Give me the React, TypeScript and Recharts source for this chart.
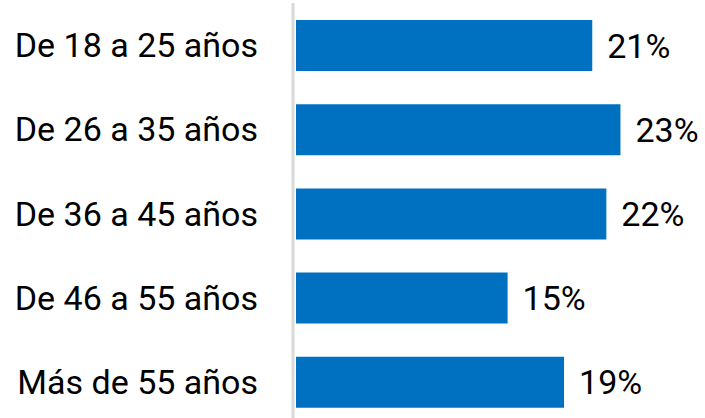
import { BarChart, Bar, XAxis, YAxis, LabelList, Rectangle, ReferenceLine } from "recharts";

const categories = ["De 18 a 25 años", "De 26 a 35 años", "De 36 a 45 años", "De 46 a 55 años", "Más de 55 años"];
const values = [21, 23, 22, 15, 19];

const data = categories.map((name, i) => ({ name, value: values[i] }));

const font = "Roboto, 'Noto Sans', sans-serif";

// bars sit 3px right of the grey axis line
const ShiftedBar = (props: any) => (
  <Rectangle x={props.x + 3} y={props.y} width={props.width} height={props.height} fill="#0070c0" />
);

const App = () => {
  return (
    <div style={{ position: "absolute", left: 0, top: 0, width: 705, height: 418, overflow: "hidden", background: "#fff" }}>
      <BarChart
        width={705}
        height={424}
        data={data}
        layout="vertical"
        margin={{ top: 3, right: 17, bottom: 0, left: 0 }}
      >
        <XAxis type="number" domain={[0, 28]} hide />
        <YAxis
          type="category"
          dataKey="name"
          width={293}
          axisLine={false}
          tickLine={false}
          tickSize={0}
          tickMargin={35}
          tick={{ fill: "#000", fontSize: 34, fontFamily: font }}
        />
        <ReferenceLine x={0} stroke="#d9d9d9" strokeWidth={3} />
        <Bar dataKey="value" barSize={51} shape={ShiftedBar} isAnimationActive={false}>
          <LabelList
            dataKey="value"
            position="right"
            offset={18}
            formatter={(v: any) => `${v}%`}
            style={{ fill: "#000", fontSize: 34, fontFamily: font }}
          />
        </Bar>
      </BarChart>
    </div>
  );
};

export default App;
